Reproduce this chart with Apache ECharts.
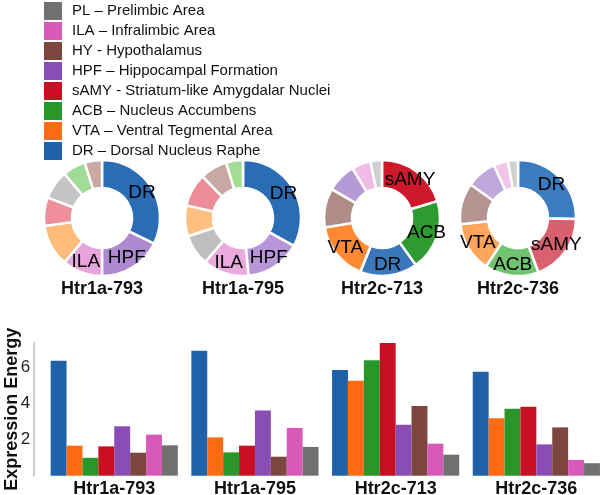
<!DOCTYPE html>
<html>
<head>
<meta charset="utf-8">
<script src="https://cdn.jsdelivr.net/npm/echarts@6/dist/echarts.min.js"></script>
<style>
  html, body { margin: 0; padding: 0; background: #fff; }
  #chart { width: 602px; height: 495px; }
</style>
</head>
<body>
<div id="chart"></div>
<script>
// ---------------- DATA ----------------
const genes = ['Htr1a-793', 'Htr1a-795', 'Htr2c-713', 'Htr2c-736'];
const regions = ['DR', 'VTA', 'ACB', 'sAMY', 'HPF', 'HY', 'ILA', 'PL'];
const regionNames = {
  PL: 'PL – Prelimbic Area',
  ILA: 'ILA – Infralimbic Area',
  HY: 'HY - Hypothalamus',
  HPF: 'HPF – Hippocampal Formation',
  sAMY: 'sAMY - Striatum-like Amygdalar Nuclei',
  ACB: 'ACB – Nucleus Accumbens',
  VTA: 'VTA – Ventral Tegmental Area',
  DR: 'DR – Dorsal Nucleus Raphe'
};
const legendOrder = ['PL', 'ILA', 'HY', 'HPF', 'sAMY', 'ACB', 'VTA', 'DR'];

// Expression energy per region, one value per gene (genes order above)
const exprDR   = [6.35, 6.91, 5.84, 5.75];
const exprVTA  = [1.66, 2.12, 5.25, 3.17];
const exprACB  = [0.99, 1.29, 6.38, 3.70];
const exprSAMY = [1.62, 1.66, 7.33, 3.81];
const exprHPF  = [2.73, 3.61, 2.82, 1.73];
const exprHY   = [1.27, 1.05, 3.85, 2.67];
const exprILA  = [2.27, 2.64, 1.77, 0.87];
const exprPL   = [1.68, 1.59, 1.16, 0.69];
const exprByRegion = { DR: exprDR, VTA: exprVTA, ACB: exprACB, sAMY: exprSAMY,
                       HPF: exprHPF, HY: exprHY, ILA: exprILA, PL: exprPL };

const yTicks = [2, 4, 6];

// Donut slices (share in %), clockwise from 12 o'clock
const donut1Regions = ['DR', 'HPF', 'ILA', 'VTA', 'sAMY', 'PL', 'ACB', 'HY'];
const donut1Shares  = [32.3, 17.7, 11.2, 11.6, 7.9, 8.1, 6.4, 4.8];
const donut2Regions = ['DR', 'HPF', 'ILA', 'PL', 'VTA', 'sAMY', 'HY', 'ACB'];
const donut2Shares  = [33.0, 15.5, 12.8, 8.6, 8.6, 9.2, 7.6, 4.7];
const donut3Regions = ['sAMY', 'ACB', 'DR', 'VTA', 'HY', 'HPF', 'ILA', 'PL'];
const donut3Shares  = [20.3, 19.8, 16.0, 16.3, 10.9, 8.2, 5.3, 3.2];
const donut4Regions = ['DR', 'sAMY', 'ACB', 'VTA', 'HY', 'HPF', 'ILA', 'PL'];
const donut4Shares  = [25.3, 19.0, 15.0, 14.0, 11.5, 8.4, 4.0, 2.8];
const donutLabeled = [
  ['DR', 'HPF', 'ILA'],
  ['DR', 'HPF', 'ILA'],
  ['sAMY', 'ACB', 'DR', 'VTA'],
  ['DR', 'sAMY', 'ACB', 'VTA']
];

// ---------------- STYLE ----------------
const FONT = '"Liberation Sans", Arial, Helvetica, sans-serif';
const barColors = {
  DR: '#1f62a8', VTA: '#ff6b12', ACB: '#2a962a', sAMY: '#c81022',
  HPF: '#8a4db3', HY: '#7c463e', ILA: '#d85ab8', PL: '#707070'
};
const donutColors = [
  { DR: '#2a6db5', HPF: '#ad8ad0', ILA: '#e8a5dc', VTA: '#ffbb7a', sAMY: '#ef8f99', PL: '#c4c4c4', ACB: '#a0dc95', HY: '#c9aaa5' },
  { DR: '#2a6db5', HPF: '#b696d8', ILA: '#eaaade', PL: '#bfbfbf', VTA: '#ffbf80', sAMY: '#ec8c96', HY: '#c8a8a2', ACB: '#a4dc98' },
  { sAMY: '#cc1a2a', ACB: '#2e9a30', DR: '#3a78bb', VTA: '#ff8a33', HY: '#b08c86', HPF: '#b69ad8', ILA: '#f0bce6', PL: '#cfcfcf' },
  { DR: '#3b7cc0', sAMY: '#d9606e', ACB: '#72c36f', VTA: '#ffa65c', HY: '#b49490', HPF: '#c0a8dc', ILA: '#f2c4e8', PL: '#d0d0d0' }
];
const donutCenters = [[102, 218], [243, 218], [382, 218], [518, 218]];
const donutRadius = [30, 58];
const donutTitleY = 289;

const donutRegionLists = [donut1Regions, donut2Regions, donut3Regions, donut4Regions];
const donutShareLists = [donut1Shares, donut2Shares, donut3Shares, donut4Shares];

// ---------------- BUILD ----------------
const chart = echarts.init(document.getElementById('chart'), null, { renderer: 'canvas' });

const barSeries = regions.map(r => ({
  type: 'bar',
  name: regionNames[r],
  data: exprByRegion[r],
  itemStyle: { color: barColors[r] },
  barGap: '0%',
  barCategoryGap: '9.6%',
  xAxisIndex: 0,
  yAxisIndex: 0
}));

const pieSeries = donutRegionLists.map((regs, i) => ({
  type: 'pie',
  name: genes[i],
  center: donutCenters[i],
  radius: donutRadius,
  startAngle: 90,
  clockwise: true,
  avoidLabelOverlap: false,
  emphasis: { disabled: true },
  itemStyle: { borderColor: '#ffffff', borderWidth: 2.5 },
  labelLine: { show: false },
  data: regs.map((r, j) => ({
    name: r,
    value: donutShareLists[i][j],
    itemStyle: { color: donutColors[i][r] },
    label: {
      show: donutLabeled[i].includes(r),
      position: 'inside',
      formatter: r,
      color: '#000',
      fontSize: 19,
      fontFamily: FONT
    }
  }))
}));

const option = {
  animation: false,
  backgroundColor: '#ffffff',
  textStyle: { fontFamily: FONT },
  legend: {
    orient: 'vertical',
    left: 44,
    top: 2,
    padding: 0,
    itemWidth: 18,
    itemHeight: 18,
    itemGap: 2,
    icon: 'rect',
    selectedMode: false,
    data: legendOrder.map(r => regionNames[r]),
    textStyle: { fontSize: 15, color: '#111', fontFamily: FONT, padding: [0, 0, 0, 5] }
  },
  grid: {
    left: 43.9, right: -4.7, top: 342.7, bottom: 19.3,
    containLabel: false, outerBoundsMode: 'none'
  },
  xAxis: {
    type: 'category',
    data: genes,
    axisLine: { show: false },
    axisTick: { show: false },
    axisLabel: { fontSize: 18, fontWeight: 'bold', color: '#111', margin: 4, fontFamily: FONT }
  },
  yAxis: {
    type: 'value',
    min: 0,
    max: 7.35,
    interval: 2,
    offset: 10.6,
    name: 'Expression Energy',
    nameLocation: 'middle',
    nameRotate: 90,
    nameGap: 12,
    nameMoveOverlap: false,
    nameTextStyle: { fontSize: 18, fontWeight: 'bold', color: '#111', fontFamily: FONT },
    axisLine: { show: true, lineStyle: { color: '#cccccc', width: 2 } },
    axisTick: { show: false },
    splitLine: { show: false },
    axisLabel: {
      fontSize: 17, color: '#222', margin: 3, fontFamily: FONT,
      formatter: v => (yTicks.includes(v) ? String(v) : '')
    }
  },
  graphic: genes.map((g, i) => ({
    type: 'text',
    x: donutCenters[i][0],
    y: donutTitleY,
    style: {
      text: g,
      fill: '#111',
      font: 'bold 18px ' + FONT,
      textAlign: 'center',
      textVerticalAlign: 'middle'
    }
  })),
  series: barSeries.concat(pieSeries)
};

chart.setOption(option);
</script>
</body>
</html>
